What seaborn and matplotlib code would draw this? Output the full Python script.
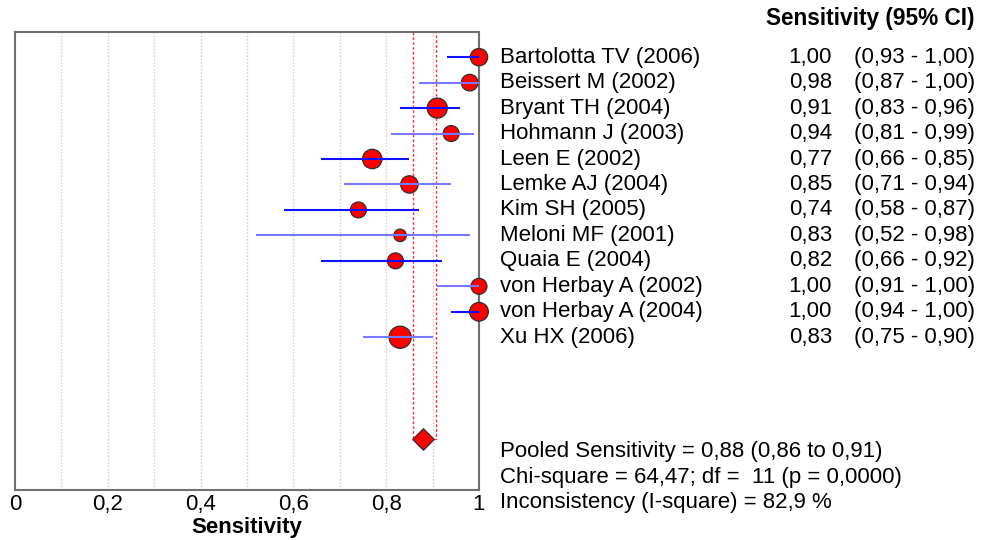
import numpy as np
import pandas as pd
import matplotlib
matplotlib.use("Agg")
import matplotlib.pyplot as plt
import matplotlib.transforms as mtrans
import seaborn as sns

# ---------------- data ----------------
studies = ["Bartolotta TV (2006)", "Beissert M (2002)", "Bryant TH (2004)",
           "Hohmann J (2003)", "Leen E (2002)", "Lemke AJ (2004)",
           "Kim SH (2005)", "Meloni MF (2001)", "Quaia E (2004)",
           "von Herbay A (2002)", "von Herbay A (2004)", "Xu HX (2006)"]
sens = [1.00, 0.98, 0.91, 0.94, 0.77, 0.85, 0.74, 0.83, 0.82, 1.00, 1.00, 0.83]
ci_low = [0.93, 0.87, 0.83, 0.81, 0.66, 0.71, 0.58, 0.52, 0.66, 0.91, 0.94, 0.75]
ci_high = [1.00, 1.00, 0.96, 0.99, 0.85, 0.94, 0.87, 0.98, 0.92, 1.00, 1.00, 0.90]
# relative study weight (marker diameter in px as drawn)
weight = [16.7, 16.0, 19.3, 15.3, 18.7, 16.7, 15.3, 12.0, 15.3, 15.3, 18.0, 21.3]
line_shade = ["dark", "light", "dark", "light", "dark", "light",
              "dark", "light", "dark", "light", "dark", "light"]

pooled = 0.88
pooled_low = 0.857
pooled_high = 0.907
pooled_txt = "Pooled Sensitivity = 0,88 (0,86 to 0,91)"
chi_txt = "Chi-square = 64,47; df =  11 (p = 0,0000)"
incons_txt = "Inconsistency (I-square) = 82,9 %"

xtick_vals = [0, 0.2, 0.4, 0.6, 0.8, 1.0]
xtick_labels = ["0", "0,2", "0,4", "0,6", "0,8", "1"]

# ---------------- figure ----------------
sns.set_theme(style="white")
plt.rcParams["font.family"] = ["Liberation Sans", "DejaVu Sans"]
plt.rcParams["text.color"] = "black"
plt.rcParams["axes.labelcolor"] = "black"
plt.rcParams["xtick.color"] = "black"

W, H, DPI = 985, 540, 100
fig = plt.figure(figsize=(W / DPI, H / DPI), dpi=DPI)
ax = fig.add_axes([15 / W, 1 - 490 / H, 464 / W, (490 - 31.7) / H])

rows = np.arange(1, len(studies) + 1)
diamond_row = 16

df = pd.DataFrame({"study": studies, "sens": sens, "lo": ci_low, "hi": ci_high,
                   "w": weight, "row": rows})

ax.set_xlim(0, 1)
ax.set_ylim(18, 0)

ax.set_xticks(xtick_vals)
ax.set_xticklabels(xtick_labels, fontsize=16)
ax.tick_params(axis="x", which="both", length=0, pad=3)
ax.set_yticks([])
ax.grid(False)
for xv in np.arange(0.1, 1.0, 0.1):
    ax.axvline(xv, color="#d0d0d0", lw=1, ls=(0, (1.2, 1.2)), zorder=0)

for sp in ax.spines.values():
    sp.set_color("#707070")
    sp.set_linewidth(1.5)

# pooled CI reference lines
ax.plot([pooled_low, pooled_low, pooled_high, pooled_high],
        [0, diamond_row, diamond_row, 0], color="#ff3030", lw=1,
        ls=(0, (2, 1.5)), zorder=1)

# markers
size_map = {w: (w * 1.04 * 72 / DPI) ** 2 for w in weight}
sns.scatterplot(data=df, x="sens", y="row", size="w", sizes=size_map,
                color="#ff0000", edgecolor="#303030", linewidth=0.9,
                legend=False, ax=ax, zorder=3, clip_on=False)

# CI lines (drawn over markers)
shade_col = {"dark": "#1010ff", "light": "#7878ff"}
for r, lo, hi, sh in zip(rows, ci_low, ci_high, line_shade):
    ax.hlines(r, lo, hi, color=shade_col[sh], lw=1.5, zorder=4)

# pooled diamond
sns.scatterplot(x=[pooled], y=[diamond_row], marker="D", s=120,
                color="#ff0000", edgecolor="#303030", linewidth=0.9,
                ax=ax, zorder=5, legend=False)

ax.set_xlabel("Sensitivity", fontsize=16, fontweight="bold", labelpad=1)
ax.set_ylabel("")

# right-hand text columns
tr = mtrans.blended_transform_factory(fig.transFigure, ax.transData)
fs = 16
for r, name, s, lo, hi in zip(rows, studies, sens, ci_low, ci_high):
    ax.text(500 / W, r, name, transform=tr, ha="left", va="center",
            fontsize=fs, clip_on=False)
    ax.text(832 / W, r, f"{s:.2f}".replace(".", ","), transform=tr,
            ha="right", va="center", fontsize=fs, clip_on=False)
    ci = f"({lo:.2f} - {hi:.2f})".replace(".", ",")
    ax.text(975 / W, r, ci, transform=tr, ha="right", va="center",
            fontsize=fs, clip_on=False)

fig.text(975 / W, 1 - 18 / H, "Sensitivity (95% CI)", ha="right",
         va="center", fontsize=16.3, fontweight="bold")

for i, t in enumerate([pooled_txt, chi_txt, incons_txt]):
    ax.text(500 / W, 16.5 + i, t, transform=tr, ha="left", va="center",
            fontsize=fs, clip_on=False)

fig.savefig("out.png", dpi=DPI)
